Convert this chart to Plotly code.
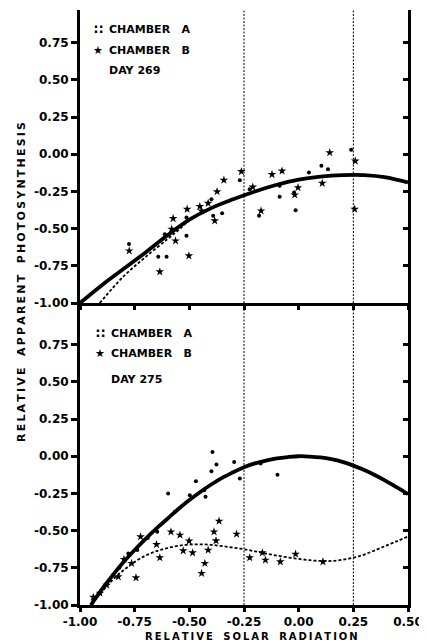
import plotly.graph_objects as go
from plotly.subplots import make_subplots

# ---------------- data ----------------
x_ticks = [-1.0, -0.75, -0.5, -0.25, 0.0, 0.25, 0.5]
x_ticktext = ["-1.00", "-0.75", "-0.50", "-0.25", "0.00", "0.25", "0.50"]
y_ticks = [-1.0, -0.75, -0.5, -0.25, 0.0, 0.25, 0.5, 0.75]
y_ticktext = ["-1.00", "-0.75", "-0.50", "-0.25", "0.00", "0.25", "0.50", "0.75"]
ref_lines_x = [-0.25, 0.25]

# Day 269 (top panel)
d269_A_x = [-0.776, -0.642, -0.604, -0.612, -0.513, -0.513, -0.399, -0.391, -0.350, -0.269,
            -0.224, -0.181, -0.087, -0.087, -0.021, -0.014, 0.047, 0.104, 0.134, 0.240]
d269_A_y = [-0.604, -0.689, -0.689, -0.537, -0.425, -0.548, -0.302, -0.414, -0.396, -0.174,
            -0.235, -0.414, -0.286, -0.212, -0.257, -0.376, -0.123, -0.078, -0.101, 0.030]
d269_B_x = [-0.775, -0.635, -0.581, -0.574, -0.563, -0.510, -0.502, -0.452, -0.444, -0.414,
            -0.384, -0.373, -0.342, -0.262, -0.210, -0.172, -0.122, -0.076, -0.018, -0.003,
            0.108, 0.142, 0.259, 0.256]
d269_B_y = [-0.649, -0.790, -0.503, -0.432, -0.582, -0.369, -0.682, -0.351, -0.380, -0.329,
            -0.447, -0.251, -0.174, -0.116, -0.220, -0.380, -0.136, -0.112, -0.273, -0.224,
            -0.195, 0.011, -0.045, -0.369]
d269_fitA_x = [-1.0, -0.9, -0.8, -0.7, -0.6, -0.5, -0.4, -0.3, -0.2, -0.1, 0.0, 0.1, 0.2, 0.3, 0.4, 0.5]
d269_fitA_y = [-1.0, -0.88, -0.77, -0.66, -0.545, -0.44, -0.362, -0.303, -0.25, -0.205, -0.17,
               -0.15, -0.14, -0.14, -0.155, -0.19]
d269_fitB_x = [-0.91, -0.8, -0.7, -0.6, -0.55, -0.5, -0.4, -0.3, -0.2, -0.1, 0.0, 0.1, 0.2, 0.3, 0.4, 0.5]
d269_fitB_y = [-1.0, -0.82, -0.69, -0.57, -0.51, -0.445, -0.364, -0.305, -0.252, -0.207, -0.172,
               -0.152, -0.142, -0.142, -0.157, -0.19]

# Day 275 (bottom panel)
d275_A_x = [-0.935, -0.91, -0.88, -0.85, -0.82, -0.779, -0.738, -0.69, -0.647, -0.597, -0.566,
            -0.498, -0.470, -0.432, -0.426, -0.399, -0.394, -0.376, -0.295, -0.269, -0.174, -0.097]
d275_A_y = [-0.96, -0.92, -0.86, -0.80, -0.75, -0.653, -0.631, -0.55, -0.508, -0.250, -0.374,
            -0.262, -0.168, -0.228, -0.273, -0.101, 0.029, -0.056, -0.038, -0.150, -0.049, -0.125]
d275_B_x = [-0.939, -0.909, -0.878, -0.825, -0.799, -0.764, -0.744, -0.723, -0.650, -0.635,
            -0.584, -0.543, -0.528, -0.501, -0.485, -0.444, -0.429, -0.414, -0.387, -0.378,
            -0.364, -0.284, -0.224, -0.166, -0.152, -0.084, -0.014, 0.111]
d275_B_y = [-0.948, -0.92, -0.866, -0.81, -0.693, -0.720, -0.817, -0.541, -0.593, -0.682,
            -0.508, -0.530, -0.635, -0.570, -0.649, -0.787, -0.720, -0.631, -0.508, -0.568,
            -0.436, -0.523, -0.682, -0.649, -0.698, -0.709, -0.658, -0.709]
d275_fitA_x = [-0.95, -0.9, -0.85, -0.8, -0.75, -0.7, -0.65, -0.6, -0.55, -0.5, -0.45, -0.4,
               -0.35, -0.3, -0.25, -0.2, -0.15, -0.1, -0.05, 0.0, 0.05, 0.1, 0.15, 0.2, 0.25,
               0.3, 0.35, 0.4, 0.45, 0.5]
d275_fitA_y = [-1.0, -0.895, -0.80, -0.71, -0.63, -0.555, -0.485, -0.42, -0.355, -0.295, -0.24,
               -0.19, -0.145, -0.108, -0.074, -0.048, -0.029, -0.015, -0.006, 0.0, -0.002,
               -0.008, -0.02, -0.038, -0.063, -0.093, -0.128, -0.167, -0.21, -0.255]
d275_fitB_x = d275_fitA_x
d275_fitB_y = [-1.0, -0.91, -0.83, -0.765, -0.71, -0.668, -0.638, -0.617, -0.602, -0.594, -0.592,
               -0.596, -0.604, -0.614, -0.625, -0.639, -0.654, -0.668, -0.68, -0.69, -0.699,
               -0.704, -0.704, -0.696, -0.682, -0.661, -0.632, -0.601, -0.571, -0.54]

# ---------------- figure ----------------
FONT = "DejaVu Sans"
fig = make_subplots(rows=2, cols=1, vertical_spacing=0)

def add_panel(row, ax, ay, bx, by, fax, fay, fbx, fby):
    fig.add_trace(go.Scatter(x=fax, y=fay, mode="lines", line=dict(color="black", width=3.8, shape="spline"),
                             showlegend=False, hoverinfo="skip"), row=row, col=1)
    fig.add_trace(go.Scatter(x=fbx, y=fby, mode="lines",
                             line=dict(color="black", width=1.8, dash="3px,2px", shape="spline"),
                             showlegend=False, hoverinfo="skip"), row=row, col=1)
    fig.add_trace(go.Scatter(x=ax, y=ay, mode="markers", name="Chamber A",
                             marker=dict(symbol="circle", size=4, color="black"), showlegend=False),
                  row=row, col=1)
    fig.add_trace(go.Scatter(x=bx, y=by, mode="markers", name="Chamber B",
                             marker=dict(symbol="star", size=6.5, color="black"), showlegend=False),
                  row=row, col=1)
    for xv in ref_lines_x:
        fig.add_vline(x=xv, line=dict(color="black", width=1, dash="2px,1.5px"), row=row, col=1)

add_panel(1, d269_A_x, d269_A_y, d269_B_x, d269_B_y, d269_fitA_x, d269_fitA_y, d269_fitB_x, d269_fitB_y)
add_panel(2, d275_A_x, d275_A_y, d275_B_x, d275_B_y, d275_fitA_x, d275_fitA_y, d275_fitB_x, d275_fitB_y)

# dummy traces for the right-side (inward tick) overlay axes
fig.add_trace(go.Scatter(x=[None], y=[None], xaxis="x", yaxis="y3", showlegend=False, hoverinfo="skip"))
fig.add_trace(go.Scatter(x=[None], y=[None], xaxis="x2", yaxis="y4", showlegend=False, hoverinfo="skip"))

split = 302 / 595
tickfont = dict(family=FONT, size=12, color="black", weight="bold")
xcommon = dict(range=[-1.0, 0.5], tickvals=x_ticks, ticktext=x_ticktext, showgrid=False, zeroline=False,
               showline=True, linecolor="black", linewidth=3, ticks="outside", ticklen=4, tickwidth=2.5,
               tickcolor="black", tickfont=tickfont)
ycommon = dict(tickvals=y_ticks, ticktext=y_ticktext, showgrid=False, zeroline=False,
               showline=True, linecolor="black", linewidth=3, mirror=True, ticks="outside", ticklen=6,
               tickwidth=2.5, tickcolor="black", tickfont=tickfont)

# The page body has an 8px default margin: the figure is sized/margined so that the
# plotting area lands at the same page pixels as in the reference.
fig.update_layout(
    xaxis=dict(**xcommon, showticklabels=False),
    xaxis2=dict(**xcommon, showticklabels=True),
    yaxis=dict(**ycommon, range=[-1.0, 0.97], domain=[split, 1.0]),
    yaxis2=dict(**ycommon, range=[-1.0, 1.03], domain=[0.0, split]),
    yaxis3=dict(overlaying="y", side="right", anchor="x", range=[-1.0, 0.97], tickvals=y_ticks,
                showticklabels=False, ticks="inside", ticklen=5, tickwidth=2.5, tickcolor="black",
                showgrid=False, zeroline=False, showline=False),
    yaxis4=dict(overlaying="y2", side="right", anchor="x2", range=[-1.0, 1.03], tickvals=y_ticks,
                showticklabels=False, ticks="inside", ticklen=5, tickwidth=2.5, tickcolor="black",
                showgrid=False, zeroline=False, showline=False),
    width=419, height=636,
    margin=dict(l=72, r=19, t=2, b=39),
    paper_bgcolor="white", plot_bgcolor="white",
    showlegend=False,
)

def spaced(s, gap="\u2009", word="\u00a0\u00a0\u00a0"):
    return word.join(gap.join(w) for w in s.split(" "))

lab = dict(family=FONT, size=11, color="black", weight="bold")
def txt(x, y, t, font=lab, xanchor="left", yanchor="middle", **kw):
    fig.add_annotation(x=x, y=y, xref="paper", yref="paper", text=t, showarrow=False,
                       xanchor=xanchor, yanchor=yanchor, font=font, **kw)

# page-pixel -> paper fraction (plot area spans page x 80..408, y 10..605)
W, P_L, P_B, PH = 328, 80, 605, 595
def px(xp):
    return (xp - P_L) / W
def py(yp):
    return (P_B - yp) / PH

# legends (text)
for (yA, yB, yD, day, xs) in [(30, 51, 71, "DAY 269", 107), (333, 354, 379, "DAY 275", 109)]:
    txt(px(xs - 2), py(yA), "∷", xanchor="right", font=dict(family=FONT, size=13, color="black", weight="bold"))
    txt(px(xs - 2), py(yB), "★", xanchor="right", font=dict(family=FONT, size=11, color="black"))
    txt(px(xs), py(yA), "CHAMBER\u00a0\u00a0 A")
    txt(px(xs), py(yB), "CHAMBER\u00a0\u00a0 B")
    txt(px(xs), py(yD), day)

# axis titles
txt(px(21), py(282), spaced("RELATIVE APPARENT PHOTOSYNTHESIS"), xanchor="center", textangle=-90,
    font=dict(family=FONT, size=11, color="black", weight="bold"))
txt(px(251), py(636), spaced("RELATIVE SOLAR RADIATION"), xanchor="center",
    font=dict(family=FONT, size=10, color="black", weight="bold"))

fig.write_html("out.html")
